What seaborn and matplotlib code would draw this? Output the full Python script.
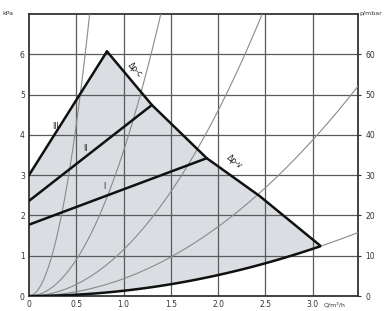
import numpy as np
import matplotlib
matplotlib.use("Agg")
import matplotlib.pyplot as plt
import seaborn as sns

# pump field (Q in m3/h, head in kPa)
max_q = [0.825, 1.30, 1.88, 2.44, 3.08]
max_h = [6.07, 4.74, 3.42, 2.48, 1.25]

# speed stages: head at zero flow, end point on max curve
stage_names = ["III", "II", "I"]
stage_h0 = [3.0, 2.36, 1.77]
stage_q1 = [0.825, 1.30, 1.88]
stage_h1 = [6.07, 4.74, 3.42]

# system curves h = k*Q^2
sys_k = [17.0, 3.6, 1.15, 0.43, 0.13]
bottom_k = 0.13
bottom_qmax = 3.08

x_ticks = [0, 0.5, 1.0, 1.5, 2.0, 2.5, 3.0]
x_labels = ["0", "0.5", "1.0", "1.5", "2.0", "2.5", "3.0"]
y_ticks = [0, 1, 2, 3, 4, 5, 6]
y2_labels = ["0", "10", "20", "30", "40", "50", "60"]

sns.set_style("white")
plt.rcParams["font.family"] = ["DejaVu Sans"]

fig = plt.figure(figsize=(3.88, 3.11), dpi=100)
ax = fig.add_axes([0.0747, 0.0482, 0.848, 0.907])
xmax, ymax = 3.48, 7.0

# grey operating field
qb = np.linspace(0, bottom_qmax, 80)
poly_x = [0, 0] + max_q + list(qb[::-1])
poly_y = [0, stage_h0[0]] + max_h + list(bottom_k * qb[::-1] ** 2)
ax.fill(poly_x, poly_y, color="#dadde1", zorder=1, lw=0)

# grid
for t in x_ticks[1:]:
    ax.axvline(t, color="#5a5a5a", lw=0.9, zorder=2)
for t in y_ticks[1:]:
    ax.axhline(t, color="#5a5a5a", lw=0.9, zorder=2)

# system curves
for k in sys_k:
    q = np.linspace(0, min(xmax, np.sqrt(ymax / k)), 120)
    sns.lineplot(x=q, y=k * q ** 2, ax=ax, color="#8a8a8a", lw=0.8,
                 sort=False, zorder=3)

# thick bottom curve
sns.lineplot(x=qb, y=bottom_k * qb ** 2, ax=ax, color="#111111", lw=1.8,
             sort=False, zorder=4)

# max curve
sns.lineplot(x=max_q, y=max_h, ax=ax, color="#111111", lw=1.8, sort=False, zorder=4)

# stage lines
for h0, q1, h1 in zip(stage_h0, stage_q1, stage_h1):
    sns.lineplot(x=[0, q1], y=[h0, h1], ax=ax, color="#111111", lw=1.8,
                 sort=False, zorder=4)

lab_kw = dict(fontsize=5.5, color="#222222", zorder=5)
ax.text(0.28, 4.2, "III", ha="center", va="center", **lab_kw)
ax.text(0.6, 3.66, "II", ha="center", va="center", **lab_kw)
ax.text(0.8, 2.72, "I", ha="center", va="center", **lab_kw)
ax.text(1.12, 5.62, "Δp-c", rotation=-45, ha="center", va="center", **lab_kw)
ax.text(2.17, 3.33, "Δp-v", rotation=-38, ha="center", va="center", **lab_kw)

ax.set_xlim(0, xmax)
ax.set_ylim(0, ymax)
ax.set_xticks(x_ticks)
ax.set_xticklabels(x_labels)
ax.set_yticks(y_ticks)
ax.tick_params(axis="both", labelsize=5.5, colors="#333333", length=0, pad=3)
for s in ax.spines.values():
    s.set_color("#333333")
    s.set_linewidth(1.3)

ax2 = ax.twinx()
ax2.set_ylim(0, ymax)
ax2.set_yticks(y_ticks)
ax2.set_yticklabels(y2_labels)
ax2.tick_params(axis="y", labelsize=5.5, colors="#333333", length=2.5, pad=3)
for s in ax2.spines.values():
    s.set_visible(False)

fig.text(0.005, 0.955, "kPa", fontsize=4.5, color="#333333", va="center")
fig.text(0.925, 0.955, "p/mbar", fontsize=4.5, color="#333333", va="center")
ax.text(3.12, -0.22, "Q/m³/h", fontsize=4.5, color="#333333", va="center",
        clip_on=False)

fig.savefig("out.png", dpi=100)
